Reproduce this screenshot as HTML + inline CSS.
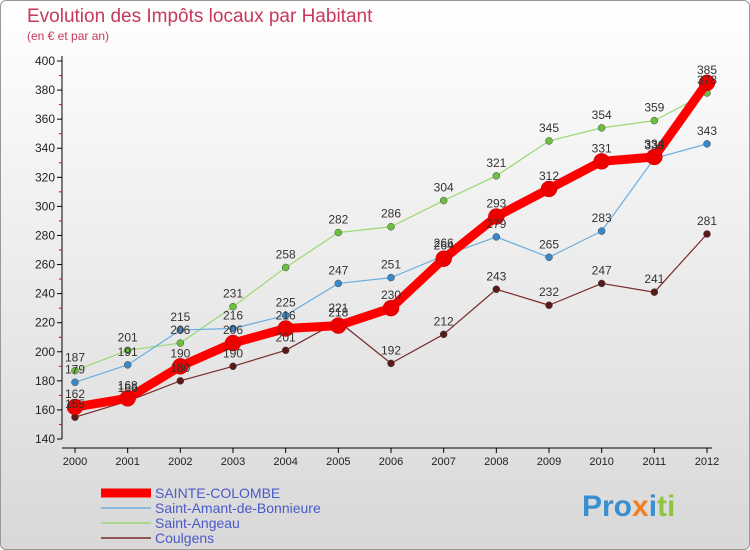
<!DOCTYPE html>
<html><head><meta charset="utf-8"><style>
body{margin:0;width:750px;height:550px;overflow:hidden;font-family:"Liberation Sans",sans-serif;}
#wrap{position:absolute;left:0;top:0;width:748px;height:548px;border:1px solid #999;border-radius:6px;background:linear-gradient(#fff,#d8d8d8);}
</style></head><body>
<div id="wrap"></div>
<svg id="chart" width="750" height="550" style="position:absolute;left:0;top:0">
<text x="27" y="22" font-size="19" fill="#c8385a">Evolution des Impôts locaux par Habitant</text>
<text x="27" y="40" font-size="12" fill="#c8385a">(en € et par an)</text>
<g id="axes"></g><g id="series"></g><g id="legend"></g>
<text x="582" y="516" font-size="30" font-weight="bold" fill="#3a8fd0">Pro<tspan fill="#f08020">x</tspan><tspan fill="#3a8fd0">i</tspan><tspan fill="#8cc63f">ti</tspan></text>
</svg>
<script>
const years=[2000,2001,2002,2003,2004,2005,2006,2007,2008,2009,2010,2011,2012];
const yTicks=[140,160,180,200,220,240,260,280,300,320,340,360,380,400];
const seriesNames=["SAINTE-COLOMBE","Saint-Amant-de-Bonnieure","Saint-Angeau","Coulgens"];
const steColombe=[162,168,190,206,216,218,230,264,293,312,331,334,385];
const stAmant=[179,191,215,216,225,247,251,266,279,265,283,333,343];
const stAngeau=[187,201,206,231,258,282,286,304,321,345,354,359,378];
const coulgens=[155,166,180,190,201,221,192,212,243,232,247,241,281];
const NS="http://www.w3.org/2000/svg";
const x=i=>75+i*(707-75)/(years.length-1);
const y=v=>439-(v-140)*(378/260);
function mk(t,a,p){const e=document.createElementNS(NS,t);for(const k in a)e.setAttribute(k,a[k]);p.appendChild(e);return e;}
const ax=document.getElementById('axes');
let l=mk('line',{x1:62,y1:56,x2:62,y2:439,stroke:'#000'},ax);

l=mk('line',{x1:62,y1:448,x2:712,y2:448,stroke:'#000'},ax);

yTicks.forEach(v=>{
 mk('line',{x1:57,y1:y(v),x2:62,y2:y(v),stroke:'#000'},ax);
 if(v<400) mk('line',{x1:59,y1:y(v+10),x2:62,y2:y(v+10),stroke:'#e00'},ax);
 const t=mk('text',{x:55,y:y(v)+4,'font-size':12,'text-anchor':'end',fill:'#222'},ax);t.textContent=v;
 
});
years.forEach((yr,i)=>{
 mk('line',{x1:x(i),y1:448,x2:x(i),y2:453,stroke:'#000'},ax);
 const t=mk('text',{x:x(i),y:465,'font-size':11,'text-anchor':'middle',fill:'#222'},ax);t.textContent=yr;
 
});
const sg=document.getElementById('series');
const defs=[[coulgens,'#7a2a2a','#5a1a1a',1.2,3.5],[stAngeau,'#9ad870','#6cc040',1.2,3.5],[stAmant,'#6aaee0','#3a88c8',1.2,3.5],[steColombe,'#ff0000','#ee0000',9,8]];
const names=['coulgens','saint-angeau','saint-amant','sainte-colombe'];
defs.forEach((d,si)=>{
 const g=mk('g',{},sg);
 const pl=mk('polyline',{points:d[0].map((v,i)=>x(i)+','+y(v)).join(' '),fill:'none',stroke:d[1],'stroke-width':d[3],'stroke-linejoin':'round'},g);
 
 d[0].forEach((v,i)=>{
  const c=mk('circle',{cx:x(i),cy:y(v),r:d[4],fill:d[2],stroke:si==3?'#c00':'#444','stroke-width':0.5},g);
  
 });
});
[steColombe,stAmant,stAngeau,coulgens].forEach((arr,si)=>{
 arr.forEach((v,i)=>{
  const t=mk('text',{x:x(i),y:y(v)-9,'font-size':12,'text-anchor':'middle',fill:'#333'},sg);t.textContent=v;
  
 });
});
const lg=document.getElementById('legend');
const lc=['#ff0000','#6aaee0','#9ad870','#7a2a2a'],lw=[9,1.5,1.5,1.5];
seriesNames.forEach((n,i)=>{
 const yy=493+i*15;
 mk('line',{x1:101,y1:yy,x2:151,y2:yy,stroke:lc[i],'stroke-width':lw[i]},lg);
 const t=mk('text',{x:155,y:yy+5,'font-size':14,fill:'#4a5ac8'},lg);t.textContent=n;
 
});
</script>
</body></html>
